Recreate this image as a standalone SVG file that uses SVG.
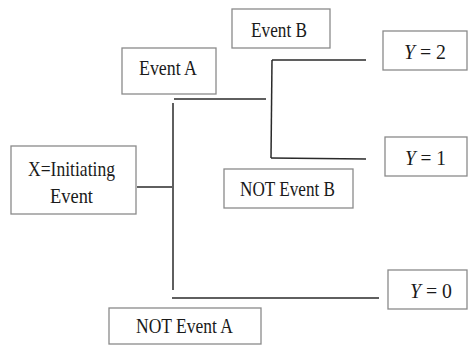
<svg xmlns="http://www.w3.org/2000/svg" width="468" height="346" viewBox="0 0 468 346">
<style>
.box{fill:#fff;stroke:#8a8a8a;stroke-width:1.3}
.conn{stroke:#2a2a2a;stroke-width:1.5;fill:none}
</style>
<rect width="468" height="346" fill="#fff"/>
<g id="connectors">
<line class="conn" x1="137" y1="187" x2="172" y2="187"/>
<line class="conn" x1="173" y1="103" x2="173" y2="290"/>
<line class="conn" x1="174" y1="99" x2="266" y2="99"/>
<line class="conn" x1="172" y1="298" x2="379" y2="298"/>
<line class="conn" x1="272" y1="60" x2="271" y2="158"/>
<line class="conn" x1="272" y1="60" x2="366" y2="60"/>
<line class="conn" x1="271" y1="158" x2="366" y2="159"/>
</g>
<g font-family="Liberation Serif, DejaVu Serif, serif" font-size="22" fill="#1a1a1a">
<g id="initiating">
<rect class="box" x="11" y="146" width="125" height="68"/>
<text x="28" y="176" textLength="87" lengthAdjust="spacingAndGlyphs">X=Initiating</text>
<text x="50" y="203" textLength="43" lengthAdjust="spacingAndGlyphs">Event</text>
</g>
<g id="eventA">
<rect class="box" x="122" y="48" width="94" height="46"/>
<text x="139" y="75" textLength="58" lengthAdjust="spacingAndGlyphs">Event A</text>
</g>
<g id="notEventA">
<rect class="box" x="109" y="308" width="152" height="36"/>
<text x="136" y="333" textLength="97" lengthAdjust="spacingAndGlyphs">NOT Event A</text>
</g>
<g id="eventB">
<rect class="box" x="232" y="9" width="98" height="39"/>
<text x="251" y="37" textLength="56" lengthAdjust="spacingAndGlyphs">Event B</text>
</g>
<g id="notEventB">
<rect class="box" x="224" y="169" width="129" height="39"/>
<text x="240" y="196" textLength="95" lengthAdjust="spacingAndGlyphs">NOT Event B</text>
</g>
<g id="y2">
<rect class="box" x="383" y="31" width="84" height="39"/>
<text x="404" y="59" textLength="42" lengthAdjust="spacingAndGlyphs"><tspan font-style="italic">Y</tspan> = 2</text>
</g>
<g id="y1">
<rect class="box" x="385" y="137" width="82" height="39"/>
<text x="405" y="165" textLength="41" lengthAdjust="spacingAndGlyphs"><tspan font-style="italic">Y</tspan> = 1</text>
</g>
<g id="y0">
<rect class="box" x="388" y="270" width="79" height="39"/>
<text x="410" y="298" textLength="42" lengthAdjust="spacingAndGlyphs"><tspan font-style="italic">Y</tspan> = 0</text>
</g>
</g>
</svg>
